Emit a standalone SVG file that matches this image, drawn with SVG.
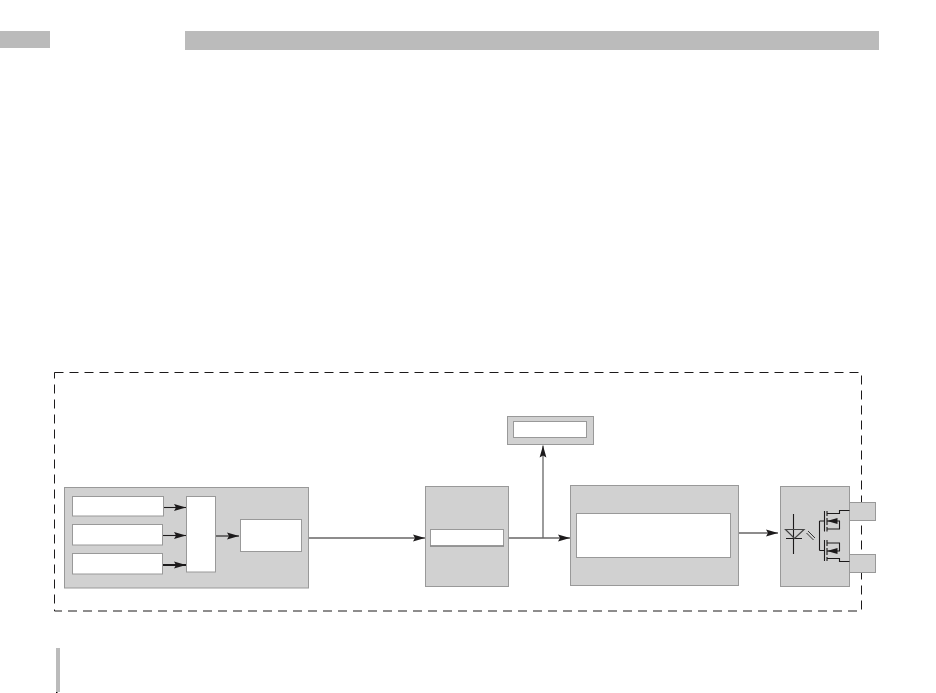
<svg xmlns="http://www.w3.org/2000/svg" width="936" height="693" viewBox="0 0 936 693">
<style>
.g{fill:#d1d1d1;stroke:#999;stroke-width:1}
.w{fill:#fff;stroke:#999;stroke-width:1}
.b{fill:#bbb}
.l{fill:none;stroke:#1c1a1b;stroke-width:1.100}
.s{fill:none;stroke:#1c1a1b;stroke-width:1.100}
</style>
<defs>
<marker id="a" markerUnits="userSpaceOnUse" markerWidth="12" markerHeight="8" refX="12" refY="4" orient="auto"><path d="M0 .6L12 4L0 7.400L2 4Z" fill="#1c1a1b"/></marker>
</defs>
<rect width="936" height="693" fill="#fff"/>
<g id="header"><rect class="b" x="0" y="31" width="50" height="17"/><rect class="b" x="185" y="31" width="694" height="19"/></g>
<rect class="b" x="56" y="648" width="4" height="44"/>
<rect x="56" y="692" width="1.500" height="1" fill="#000"/>
<rect x="54.500" y="372.500" width="807" height="238.500" fill="none" stroke="#1c1a1b" stroke-width="1" stroke-dasharray="9 6"/>
<g id="input"><rect class="g" x="64.500" y="487.500" width="244" height="100.500"/><rect class="w" x="72.500" y="496.500" width="91" height="19.500"/><rect class="w" x="72.500" y="524.500" width="90" height="20.500"/><rect class="w" x="72.500" y="553.500" width="90" height="20.500"/><rect class="w" x="186.500" y="496.500" width="29" height="75.500"/><rect class="w" x="240.500" y="519.500" width="61" height="32"/></g>
<g id="control"><rect class="g" x="425.500" y="486.500" width="83" height="100"/><rect class="w" x="430.500" y="529.500" width="73" height="16.500"/><path d="M430 546h74" stroke="#888" stroke-width="1.500"/></g>
<g id="display"><rect class="g" x="507.500" y="416.500" width="86" height="28"/><rect class="w" x="513.500" y="421.500" width="73" height="16"/></g>
<g id="logic"><rect class="g" x="570.500" y="485.500" width="168" height="100"/><rect class="w" x="576.500" y="513.500" width="154" height="44"/></g>
<g id="terminal1"><rect class="g" x="849.500" y="502.500" width="26" height="18"/></g>
<g id="terminal2"><rect class="g" x="849.500" y="554.500" width="26" height="18"/></g>
<g id="relay"><rect class="g" x="780.500" y="486.500" width="69" height="100"/>
<path class="s" d="M793.500 514V554M786 538.500H802"/>
<path d="M785.500 529.500H804L794.500 538.500Z" fill="none" stroke="#444" stroke-width="1.200"/>
<path d="M808 531L815 538M806.500 533L813.500 540" stroke="#333" stroke-width="1" fill="none"/>
<path class="s" d="M824.500 511V531.500M827 511V516M827 518V525M827 527V531.500M827 513.500H839.500V510.500H849.500M827 521H839.500V529H827M819.500 521V550.500M819.500 521H824.500M819.500 550.500H824.500M824.500 540V561M827 540V546M827 548V555M827 557V561M827 543H839.500V551H827M827 558.500H839.500V561.500H849.500"/>
<path d="M827 521L837.500 518V524Z M827 551L837.500 548V554Z" fill="#1c1a1b"/>
</g>
<g id="connectors">
<path class="l" d="M164 507.500H186" marker-end="url(#a)"/>
<path class="l" d="M163 535.500H186" marker-end="url(#a)"/>
<path class="l" style="stroke-width:2" d="M163 565H186" marker-end="url(#a)"/>
<path class="l" d="M216 536H239" marker-end="url(#a)"/>
<path class="l" d="M309 538H425" marker-end="url(#a)"/>
<path class="l" d="M509 538H570" marker-end="url(#a)"/>
<path d="M543 538V445.500" fill="none" stroke="#666" stroke-width="1.300" marker-end="url(#a)"/>
<path class="l" d="M739 533H778" marker-end="url(#a)"/>
</g>
</svg>
